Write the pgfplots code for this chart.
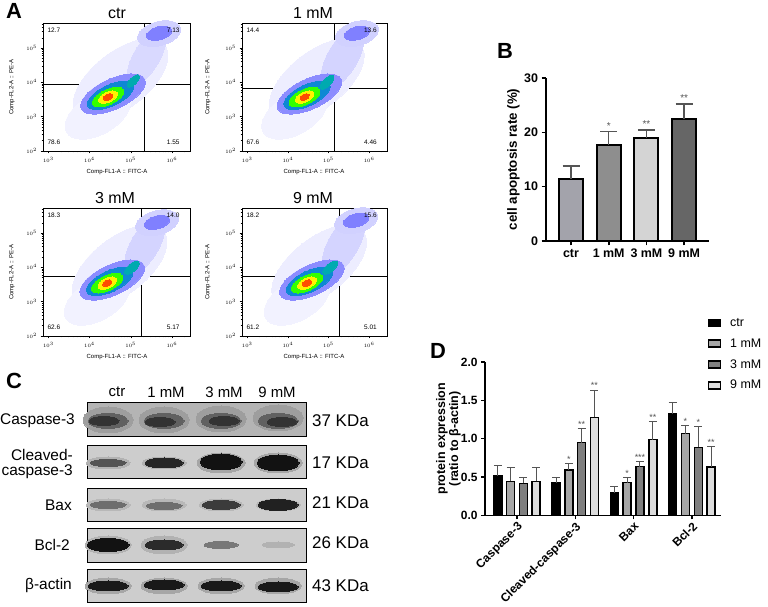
\documentclass[border=0pt]{standalone}
\usepackage{fontspec}
\setmainfont{Liberation Sans}
\usepackage{pgfplots}
\pgfplotsset{compat=1.18}
\definecolor{bctr}{HTML}{A3A3AB}
\definecolor{bone}{HTML}{8E8E8E}
\definecolor{bthree}{HTML}{D4D4D4}
\definecolor{bnine}{HTML}{666666}
\definecolor{done}{HTML}{A6A6A6}
\definecolor{dthree}{HTML}{7F7F7F}
\definecolor{dnine}{HTML}{DCDCDC}
\definecolor{errc}{HTML}{555555}
\definecolor{wbbg}{HTML}{CDCDCD}
\definecolor{wbbgd}{HTML}{B4B4B4}
\pgfplotsset{
  blob/.style n args={4}{only marks, color=#1, mark=*, mark size=1bp, mark options={draw=#1, fill=#1, line width=0pt, rotate=#2, xscale=#3, yscale=#4}, forget plot},
  band/.style n args={3}{only marks, color=#1, mark=*, mark size=1bp, mark options={draw=#1, fill=#1, line width=0pt, xscale=#2, yscale=#3}, forget plot},
  quad/.style={black, line width=0.8bp, forget plot},
}
\tikzset{qlab/.style={font=\fontsize{6.5}{7}\selectfont, inner sep=0pt},
  stD/.style={anchor=south, inner sep=1bp, font=\fontsize{9}{9}\selectfont, errc}}
\begin{document}
\begin{tikzpicture}[x=1bp,y=1bp]
\useasboundingbox (0,0) rectangle (768,607);

% ---------- Panel A ----------
\node[font=\bfseries\fontsize{22}{22}\selectfont] at (14,596) {A};
\node[font=\fontsize{16}{16}\selectfont] at (117,594) {ctr};
\node[font=\fontsize{16}{16}\selectfont] at (313,594) {1 mM};
\node[font=\fontsize{16}{16}\selectfont] at (115,409) {3 mM};
\node[font=\fontsize{16}{16}\selectfont] at (313,409) {9 mM};
\foreach \xx/\yy in {117/435, 314/435, 117/250, 314/250}
  \node[font=\fontsize{6}{6}\selectfont] at (\xx,\yy) {Comp-FL1-A :: FITC-A};
\foreach \xx/\yy in {12/520, 208/520, 12/335, 208/335}
  \node[font=\fontsize{6}{6}\selectfont, rotate=90] at (\xx,\yy) {Comp-FL2-A :: PE-A};

% ctr  (axes in log10 units)
\begin{axis}[at={(43bp,456bp)}, anchor=south west, width=147bp, height=128bp,
    scale only axis, xmin=2.87, xmax=6.44, ymin=2, ymax=5.73,
    xtick={3,4,5,6}, xticklabels={$10^3$,$10^4$,$10^5$,$10^6$},
    ytick={2,3,4,5}, yticklabels={$10^2$,$10^3$,$10^4$,$10^5$},
    minor xtick={2.903,2.954,3.301,3.477,3.602,3.699,3.778,3.845,3.903,3.954,4.301,4.477,4.602,4.699,4.778,4.845,4.903,4.954,5.301,5.477,5.602,5.699,5.778,5.845,5.903,5.954,6.301},
    minor ytick={2.301,2.477,2.602,2.699,2.778,2.845,2.903,2.954,3.301,3.477,3.602,3.699,3.778,3.845,3.903,3.954,4.301,4.477,4.602,4.699,4.778,4.845,4.903,4.954,5.301,5.477,5.602,5.699},
    tick align=outside, tick pos=left, major tick length=2.5bp, minor tick length=1.3bp,
    tick style={black, line width=0.4bp}, axis line style={line width=0.6bp},
    tick label style={font=\fontsize{5}{6}\selectfont}]
\addplot[blob={blue!7}{38}{56}{28}] coordinates {(4.75,4.07)};
\addplot[blob={blue!5}{30}{36}{20}] coordinates {(4.20,3.07)};
\addplot[blob={blue!15}{60}{32}{13}] coordinates {(5.385,4.74)};
\addplot[blob={blue!18}{15}{22}{12}] coordinates {(5.69,5.42)};
\addplot[blob={blue!50}{15}{13}{6.5}] coordinates {(5.69,5.43)};
\addplot[blob={blue!45}{25}{35}{15}] coordinates {(4.57,3.66)};
\addplot[blob={cyan!70!blue}{25}{25}{10.5}] coordinates {(4.51,3.62)};
\addplot[blob={green!80!yellow}{25}{17}{7.5}] coordinates {(4.45,3.57)};
\addplot[blob={cyan!60!green}{45}{8}{3.5}] coordinates {(5.06,4.04)};
\addplot[blob={yellow}{25}{10}{5}] coordinates {(4.45,3.57)};
\addplot[blob={red!70!yellow}{25}{5}{3}] coordinates {(4.45,3.57)};
\addplot[quad] coordinates {(5.322,2) (5.322,5.73)};
\addplot[quad] coordinates {(2.87,3.952) (6.44,3.952)};
\end{axis}

% 1 mM
\begin{axis}[at={(242bp,456bp)}, anchor=south west, width=145bp, height=128bp,
    scale only axis, xmin=2.87, xmax=6.44, ymin=2, ymax=5.73,
    xtick={3,4,5,6}, xticklabels={$10^3$,$10^4$,$10^5$,$10^6$},
    ytick={2,3,4,5}, yticklabels={$10^2$,$10^3$,$10^4$,$10^5$},
    minor xtick={2.903,2.954,3.301,3.477,3.602,3.699,3.778,3.845,3.903,3.954,4.301,4.477,4.602,4.699,4.778,4.845,4.903,4.954,5.301,5.477,5.602,5.699,5.778,5.845,5.903,5.954,6.301},
    minor ytick={2.301,2.477,2.602,2.699,2.778,2.845,2.903,2.954,3.301,3.477,3.602,3.699,3.778,3.845,3.903,3.954,4.301,4.477,4.602,4.699,4.778,4.845,4.903,4.954,5.301,5.477,5.602,5.699},
    tick align=outside, tick pos=left, major tick length=2.5bp, minor tick length=1.3bp,
    tick style={black, line width=0.4bp}, axis line style={line width=0.6bp},
    tick label style={font=\fontsize{5}{6}\selectfont}]
\addplot[blob={blue!7}{38}{56}{28}] coordinates {(4.71,4.07)};
\addplot[blob={blue!5}{30}{36}{20}] coordinates {(4.16,3.07)};
\addplot[blob={blue!17}{60}{34}{15}] coordinates {(5.345,4.72)};
\addplot[blob={blue!18}{15}{22}{12}] coordinates {(5.70,5.42)};
\addplot[blob={blue!50}{15}{13}{6.5}] coordinates {(5.70,5.43)};
\addplot[blob={blue!45}{25}{35}{15}] coordinates {(4.53,3.66)};
\addplot[blob={cyan!70!blue}{25}{25}{10.5}] coordinates {(4.47,3.62)};
\addplot[blob={green!80!yellow}{25}{17}{7.5}] coordinates {(4.41,3.57)};
\addplot[blob={cyan!60!green}{45}{9}{4}] coordinates {(4.96,4.00)};
\addplot[blob={yellow}{25}{10}{5}] coordinates {(4.41,3.57)};
\addplot[blob={red!70!yellow}{25}{5}{3}] coordinates {(4.41,3.57)};
\addplot[quad] coordinates {(5.134,2) (5.134,5.73)};
\addplot[quad] coordinates {(2.87,3.835) (6.44,3.835)};
\end{axis}

% 3 mM
\begin{axis}[at={(43bp,271bp)}, anchor=south west, width=147bp, height=128bp,
    scale only axis, xmin=2.87, xmax=6.44, ymin=2, ymax=5.73,
    xtick={3,4,5,6}, xticklabels={$10^3$,$10^4$,$10^5$,$10^6$},
    ytick={2,3,4,5}, yticklabels={$10^2$,$10^3$,$10^4$,$10^5$},
    minor xtick={2.903,2.954,3.301,3.477,3.602,3.699,3.778,3.845,3.903,3.954,4.301,4.477,4.602,4.699,4.778,4.845,4.903,4.954,5.301,5.477,5.602,5.699,5.778,5.845,5.903,5.954,6.301},
    minor ytick={2.301,2.477,2.602,2.699,2.778,2.845,2.903,2.954,3.301,3.477,3.602,3.699,3.778,3.845,3.903,3.954,4.301,4.477,4.602,4.699,4.778,4.845,4.903,4.954,5.301,5.477,5.602,5.699},
    tick align=outside, tick pos=left, major tick length=2.5bp, minor tick length=1.3bp,
    tick style={black, line width=0.4bp}, axis line style={line width=0.6bp},
    tick label style={font=\fontsize{5}{6}\selectfont}]
\addplot[blob={blue!7}{38}{56}{28}] coordinates {(4.73,4.04)};
\addplot[blob={blue!5}{30}{36}{20}] coordinates {(4.18,3.04)};
\addplot[blob={blue!17}{60}{32}{14}] coordinates {(5.345,4.655)};
\addplot[blob={blue!18}{15}{22}{12}] coordinates {(5.64,5.30)};
\addplot[blob={blue!50}{15}{13}{6.5}] coordinates {(5.64,5.31)};
\addplot[blob={blue!45}{25}{35}{15}] coordinates {(4.55,3.63)};
\addplot[blob={cyan!70!blue}{25}{25}{10.5}] coordinates {(4.49,3.59)};
\addplot[blob={green!80!yellow}{25}{17}{7.5}] coordinates {(4.43,3.54)};
\addplot[blob={cyan!60!green}{40}{9}{4}] coordinates {(5.03,3.99)};
\addplot[blob={yellow}{25}{10}{5}] coordinates {(4.43,3.54)};
\addplot[blob={red!70!yellow}{25}{5}{3}] coordinates {(4.43,3.54)};
\addplot[quad] coordinates {(5.25,2) (5.25,5.73)};
\addplot[quad] coordinates {(2.87,3.748) (6.44,3.748)};
\end{axis}

% 9 mM
\begin{axis}[at={(242bp,271bp)}, anchor=south west, width=145bp, height=128bp,
    scale only axis, xmin=2.87, xmax=6.44, ymin=2, ymax=5.73,
    xtick={3,4,5,6}, xticklabels={$10^3$,$10^4$,$10^5$,$10^6$},
    ytick={2,3,4,5}, yticklabels={$10^2$,$10^3$,$10^4$,$10^5$},
    minor xtick={2.903,2.954,3.301,3.477,3.602,3.699,3.778,3.845,3.903,3.954,4.301,4.477,4.602,4.699,4.778,4.845,4.903,4.954,5.301,5.477,5.602,5.699,5.778,5.845,5.903,5.954,6.301},
    minor ytick={2.301,2.477,2.602,2.699,2.778,2.845,2.903,2.954,3.301,3.477,3.602,3.699,3.778,3.845,3.903,3.954,4.301,4.477,4.602,4.699,4.778,4.845,4.903,4.954,5.301,5.477,5.602,5.699},
    tick align=outside, tick pos=left, major tick length=2.5bp, minor tick length=1.3bp,
    tick style={black, line width=0.4bp}, axis line style={line width=0.6bp},
    tick label style={font=\fontsize{5}{6}\selectfont}]
\addplot[blob={blue!7}{38}{56}{28}] coordinates {(4.77,4.04)};
\addplot[blob={blue!5}{30}{36}{20}] coordinates {(4.22,3.04)};
\addplot[blob={blue!17}{60}{34}{15}] coordinates {(5.37,4.685)};
\addplot[blob={blue!18}{15}{22}{12}] coordinates {(5.68,5.36)};
\addplot[blob={blue!50}{15}{13}{6.5}] coordinates {(5.68,5.37)};
\addplot[blob={blue!45}{25}{35}{15}] coordinates {(4.59,3.63)};
\addplot[blob={cyan!70!blue}{25}{25}{10.5}] coordinates {(4.53,3.59)};
\addplot[blob={green!80!yellow}{25}{17}{7.5}] coordinates {(4.47,3.54)};
\addplot[blob={cyan!60!green}{40}{9}{4}] coordinates {(5.04,3.99)};
\addplot[blob={yellow}{25}{10}{5}] coordinates {(4.47,3.54)};
\addplot[blob={red!70!yellow}{25}{5}{3}] coordinates {(4.47,3.54)};
\addplot[quad] coordinates {(5.26,2) (5.26,5.73)};
\addplot[quad] coordinates {(2.87,3.748) (6.44,3.748)};
\end{axis}

% quadrant percentages (drawn on top)
\node[qlab, anchor=west] at (47.4,576.3) {12.7};
\node[qlab, anchor=east] at (179.7,576.3) {7.13};
\node[qlab, anchor=west] at (47.4,465) {78.6};
\node[qlab, anchor=east] at (179.7,465) {1.55};
\node[qlab, anchor=west] at (246.4,576.3) {14.4};
\node[qlab, anchor=east] at (376.9,576.3) {13.6};
\node[qlab, anchor=west] at (246.4,465) {67.6};
\node[qlab, anchor=east] at (376.9,465) {4.46};
\node[qlab, anchor=west] at (47.4,391.3) {18.3};
\node[qlab, anchor=east] at (179.7,391.3) {14.0};
\node[qlab, anchor=west] at (47.4,280) {62.6};
\node[qlab, anchor=east] at (179.7,280) {5.17};
\node[qlab, anchor=west] at (246.4,391.3) {18.2};
\node[qlab, anchor=east] at (376.9,391.3) {15.6};
\node[qlab, anchor=west] at (246.4,280) {61.2};
\node[qlab, anchor=east] at (376.9,280) {5.01};

% ---------- Panel B ----------
\node[font=\bfseries\fontsize{22}{22}\selectfont] at (505,556) {B};
\begin{axis}[at={(546bp,366bp)}, anchor=south west, scale only axis, width=163bp, height=163bp,
  xmin=-0.663, xmax=3.66, ymin=0, ymax=30,
  axis x line*=bottom, axis y line*=left, axis line style={line width=2bp},
  ytick={0,10,20,30}, xtick={0,1,2,3}, xticklabels={ctr,1 mM,3 mM,9 mM},
  tick align=outside, major tick length=4.5bp, tick style={line width=1.6bp, black},
  tick label style={font=\bfseries\fontsize{12.5}{13}\selectfont},
  /pgf/number format/assume math mode=true,
  ylabel={cell apoptosis rate (\%)},
  ylabel style={font=\bfseries\fontsize{13.4}{14}\selectfont, at={(axis description cs:-0.2,0.5)}, anchor=center},
  ybar, bar width=24bp,
  error bars/error bar style={line width=1.3bp, errc},
  error bars/error mark options={rotate=90, mark size=8.5bp, line width=1.3bp, errc},
  clip=false]
\addplot[fill=bctr, draw=black, line width=2bp, bar shift=0pt, error bars/.cd, y dir=plus, y explicit] coordinates {(0,11.4) +- (0,2.4)};
\addplot[fill=bone, draw=black, line width=2bp, bar shift=0pt, error bars/.cd, y dir=plus, y explicit] coordinates {(1,17.7) +- (0,2.5)};
\addplot[fill=bthree, draw=black, line width=2bp, bar shift=0pt, error bars/.cd, y dir=plus, y explicit] coordinates {(2,19.0) +- (0,1.4)};
\addplot[fill=bnine, draw=black, line width=2bp, bar shift=0pt, error bars/.cd, y dir=plus, y explicit] coordinates {(3,22.4) +- (0,2.8)};
\node[anchor=south, inner sep=2bp, font=\fontsize{10}{10}\selectfont, errc] at (axis cs:1,20.2) {*};
\node[anchor=south, inner sep=2bp, font=\fontsize{10}{10}\selectfont, errc] at (axis cs:2,20.4) {**};
\node[anchor=south, inner sep=2bp, font=\fontsize{10}{10}\selectfont, errc] at (axis cs:3,25.2) {**};
\end{axis}

% ---------- Panel C ----------
\node[font=\bfseries\fontsize{22}{22}\selectfont] at (14,226) {C};
\node[font=\fontsize{15}{15}\selectfont] at (117,215) {ctr};
\node[font=\fontsize{15}{15}\selectfont] at (166,215) {1 mM};
\node[font=\fontsize{15}{15}\selectfont] at (224,215) {3 mM};
\node[font=\fontsize{15}{15}\selectfont] at (277,215) {9 mM};
\node[font=\fontsize{15.5}{15.5}\selectfont, anchor=east, inner sep=0pt] at (75,186) {Caspase-3};
\node[font=\fontsize{15.5}{15.5}\selectfont, anchor=east, align=right, inner sep=0pt] at (73,143) {Cleaved-\\caspase-3};
\node[font=\fontsize{15.5}{15.5}\selectfont, anchor=east, inner sep=0pt] at (72,102) {Bax};
\node[font=\fontsize{15.5}{15.5}\selectfont, anchor=east, inner sep=0pt] at (70,62) {Bcl-2};
\node[font=\fontsize{15.5}{15.5}\selectfont, anchor=east, inner sep=0pt] at (72,21) {β-actin};
\foreach \yy/\tt in {186/37, 144/17, 104/21, 64/26, 21/43}
  \node[font=\fontsize{17}{17}\selectfont, anchor=west, inner sep=0pt] at (312,\yy) {\tt\ KDa};

\begin{axis}[hide axis, scale only axis, at={(87bp,4bp)}, anchor=south west, width=219bp, height=200bp,
  xmin=87, xmax=306, ymin=-603, ymax=-403, clip=false]
\addplot[draw=black, line width=1bp, fill=wbbgd] coordinates {(87,-403)(306,-403)(306,-437)(87,-437)(87,-403)};
\addplot[draw=black, line width=1bp, fill=wbbg] coordinates {(87,-446)(306,-446)(306,-479)(87,-479)(87,-446)};
\addplot[draw=black, line width=1bp, fill=wbbg] coordinates {(87,-489)(306,-489)(306,-522)(87,-522)(87,-489)};
\addplot[draw=black, line width=1bp, fill=wbbg] coordinates {(87,-529)(306,-529)(306,-563)(87,-563)(87,-529)};
\addplot[draw=black, line width=1bp, fill=wbbg] coordinates {(87,-570)(306,-570)(306,-603)(87,-603)(87,-570)};
\addplot[band={black!38}{25}{13}] coordinates {(108,-420)(164,-420)(221,-419)(278,-418)};
\addplot[band={black!62}{20}{7.5}] coordinates {(108,-421)(164,-421)(221,-421)(278,-421)};
\addplot[band={black!80}{15}{4.5}] coordinates {(104,-421)(160,-422)(224,-421)(282,-422)};
\addplot[band={black!30}{22}{6}] coordinates {(108,-463)(164,-463)};
\addplot[band={black!35}{24}{10}] coordinates {(221,-463)(278,-463)};
\addplot[band={black!67}{18}{3.5}] coordinates {(108,-463)};
\addplot[band={black!85}{19}{5}] coordinates {(164,-463)};
\addplot[band={black!93}{21}{8}] coordinates {(221,-462)(278,-463)};
\addplot[band={black!28}{22}{6}] coordinates {(108,-505)(164,-505)(221,-505)(278,-505)};
\addplot[band={black!57}{18}{3.5}] coordinates {(108,-505)(164,-506)};
\addplot[band={black!77}{19}{4.5}] coordinates {(221,-505)};
\addplot[band={black!87}{20}{5.5}] coordinates {(278,-505)};
\addplot[band={black!30}{23}{9}] coordinates {(108,-545)(164,-545)};
\addplot[band={black!93}{21}{6.5}] coordinates {(108,-545)};
\addplot[band={black!83}{19}{5}] coordinates {(164,-545)};
\addplot[band={black!53}{17}{3.5}] coordinates {(221,-545)};
\addplot[band={black!30}{16}{3}] coordinates {(278,-545)};
\addplot[band={black!35}{23}{8}] coordinates {(108,-586)(164,-586)(221,-586)(278,-586)};
\addplot[band={black!90}{20}{5}] coordinates {(108,-586)(164,-585)(221,-586)(278,-587)};
\end{axis}

% ---------- Panel D ----------
\node[font=\bfseries\fontsize{22}{22}\selectfont] at (438,256) {D};
\begin{axis}[at={(485bp,91.5bp)}, anchor=south west, scale only axis, width=236bp, height=153.5bp,
  xmin=-0.549, xmax=3.5, ymin=0, ymax=2,
  axis x line*=bottom, axis y line*=left, axis line style={line width=1.8bp},
  ytick={0,0.5,1,1.5,2},
  yticklabel style={/pgf/number format/.cd, fixed, fixed zerofill, precision=1},
  xtick={0,1,2,3}, xticklabels={Caspase-3,Cleaved-caspase-3,Bax,Bcl-2},
  xticklabel style={rotate=45, anchor=north east, inner sep=1bp},
  tick align=outside, major tick length=4bp, tick style={line width=1.4bp, black},
  tick label style={font=\bfseries\fontsize{12}{12}\selectfont},
  /pgf/number format/assume math mode=true,
  ylabel={protein expression\\(ratio to β-actin)},
  ylabel style={font=\bfseries\fontsize{12.5}{13}\selectfont, align=center, at={(axis description cs:-0.155,0.5)}, anchor=center},
  ybar=4.8bp, bar width=8bp,
  error bars/error bar style={line width=1bp, errc},
  error bars/error mark options={rotate=90, mark size=4bp, line width=1bp, errc},
  legend style={at={(axis description cs:0.943,1.30)}, anchor=north west, draw=none, fill=none,
    font=\fontsize{12.5}{13}\selectfont, row sep=6.8bp, column sep=7bp, inner sep=0pt},
  legend cell align=left,
  legend image code/.code={\draw[#1, line width=1.4bp, draw=black] (0bp,-3.5bp) rectangle (12bp,3.5bp);},
  clip=false]
\addplot[fill=black, draw=black, line width=1.5bp, error bars/.cd, y dir=plus, y explicit]
  coordinates {(0,0.515) +- (0,0.131) (1,0.428) +- (0,0.062) (2,0.293) +- (0,0.083) (3,1.323) +- (0,0.153)};
\addplot[fill=done, draw=black, line width=1.5bp, error bars/.cd, y dir=plus, y explicit]
  coordinates {(0,0.445) +- (0,0.179) (1,0.594) +- (0,0.078) (2,0.428) +- (0,0.065) (3,1.066) +- (0,0.104)};
\addplot[fill=dthree, draw=black, line width=1.5bp, error bars/.cd, y dir=plus, y explicit]
  coordinates {(0,0.420) +- (0,0.070) (1,0.948) +- (0,0.179) (2,0.638) +- (0,0.069) (3,0.886) +- (0,0.274)};
\addplot[fill=dnine, draw=black, line width=1.5bp, error bars/.cd, y dir=plus, y explicit]
  coordinates {(0,0.445) +- (0,0.175) (1,1.280) +- (0,0.353) (2,0.987) +- (0,0.240) (3,0.633) +- (0,0.262)};
\legend{ctr,1 mM,3 mM,9 mM}
\node[stD] at (axis cs:0.890,0.672) {*};
\node[stD] at (axis cs:1.110,1.127) {**};
\node[stD] at (axis cs:1.329,1.633) {**};
\node[stD] at (axis cs:1.890,0.493) {*};
\node[stD] at (axis cs:2.110,0.707) {***};
\node[stD] at (axis cs:2.329,1.227) {**};
\node[stD] at (axis cs:2.890,1.170) {*};
\node[stD] at (axis cs:3.110,1.160) {*};
\node[stD] at (axis cs:3.329,0.895) {**};
\end{axis}
\end{tikzpicture}
\end{document}
